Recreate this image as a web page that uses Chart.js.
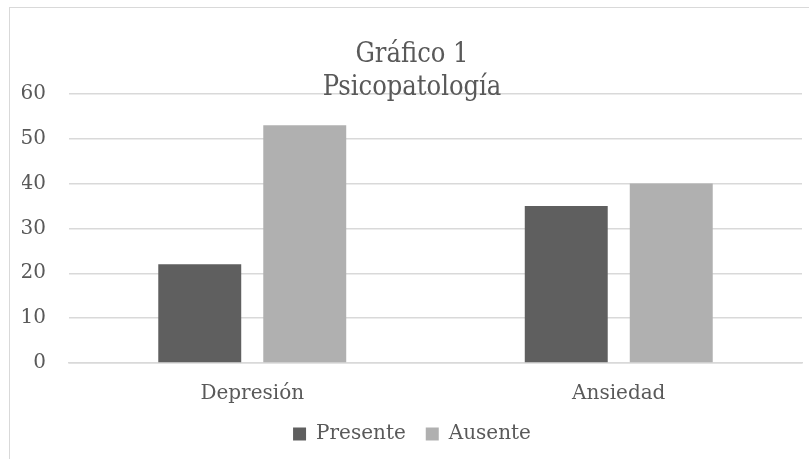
<!DOCTYPE html>
<html>
<head>
<meta charset="utf-8">
<script src="https://cdn.jsdelivr.net/npm/chart.js@4/dist/chart.umd.min.js"></script>
<style>
  body { margin: 0; background: #fff; overflow: hidden; }
  #box { position: absolute; left: 9px; top: 7px; width: 812px; height: 462px; border: 1px solid #d9d9d9; }
  #wrap { position: absolute; left: 0; top: 0; width: 800px; height: 451px; }
</style>
</head>
<body>
<div id="box"><div id="wrap"><canvas id="grafico"></canvas></div></div>
<script>
var categorias = ["Depresión", "Ansiedad"];
var presente = [22, 35];
var ausente = [53, 40];
var tituloLineas = ["Gráfico 1", "Psicopatología"];

var serif = "'DejaVu Serif', 'Liberation Serif', serif";
var gris = "#595959";

var ctx = document.getElementById("grafico").getContext("2d");
var miGrafico = new Chart(ctx, {
      type: "bar",
      data: {
            labels: categorias,
            datasets: [
                  {
                        label: "Presente",
                        data: presente,
                        backgroundColor: "#5f5f5f",
                        categoryPercentage: 0.573,
                        barPercentage: 0.79
                  },
                  {
                        label: "Ausente",
                        data: ausente,
                        backgroundColor: "#b0b0b0",
                        categoryPercentage: 0.573,
                        barPercentage: 0.79
                  }
            ]
      },
      options: {
            responsive: true,
            maintainAspectRatio: false,
            animation: false,
            layout: { padding: { left: 12, right: 8, top: 0, bottom: 5 } },
            plugins: {
                  title: {
                        display: true,
                        text: tituloLineas,
                        color: gris,
                        font: { family: "'DejaVu Serif Condensed', 'DejaVu Serif', serif", size: 27, weight: "normal", lineHeight: 1.22 },
                        padding: { top: 31, bottom: -11 }
                  },
                  legend: {
                        position: "bottom",
                        labels: {
                              color: gris,
                              font: { family: serif, size: 20 },
                              boxWidth: 13,
                              boxHeight: 13,
                              padding: 20
                        }
                  },
                  tooltip: { enabled: false }
            },
            scales: {
                  x: {
                        grid: { display: false, drawTicks: false },
                        border: { color: "#d9d9d9", width: 1.5 },
                        ticks: { color: gris, font: { family: serif, size: 20 }, padding: 19 },
                        afterFit: function(scale) { scale.height -= 21; }
                  },
                  y: {
                        min: 0,
                        max: 60,
                        ticks: { stepSize: 10, color: gris, font: { family: serif, size: 20 }, padding: 23 },
                        grid: { color: "#d9d9d9", lineWidth: 1.5, drawTicks: false },
                        border: { display: false },
                        afterFit: function(scale) { scale.width = 47; }
                  }
            }
      }
});
</script>
</body>
</html>
